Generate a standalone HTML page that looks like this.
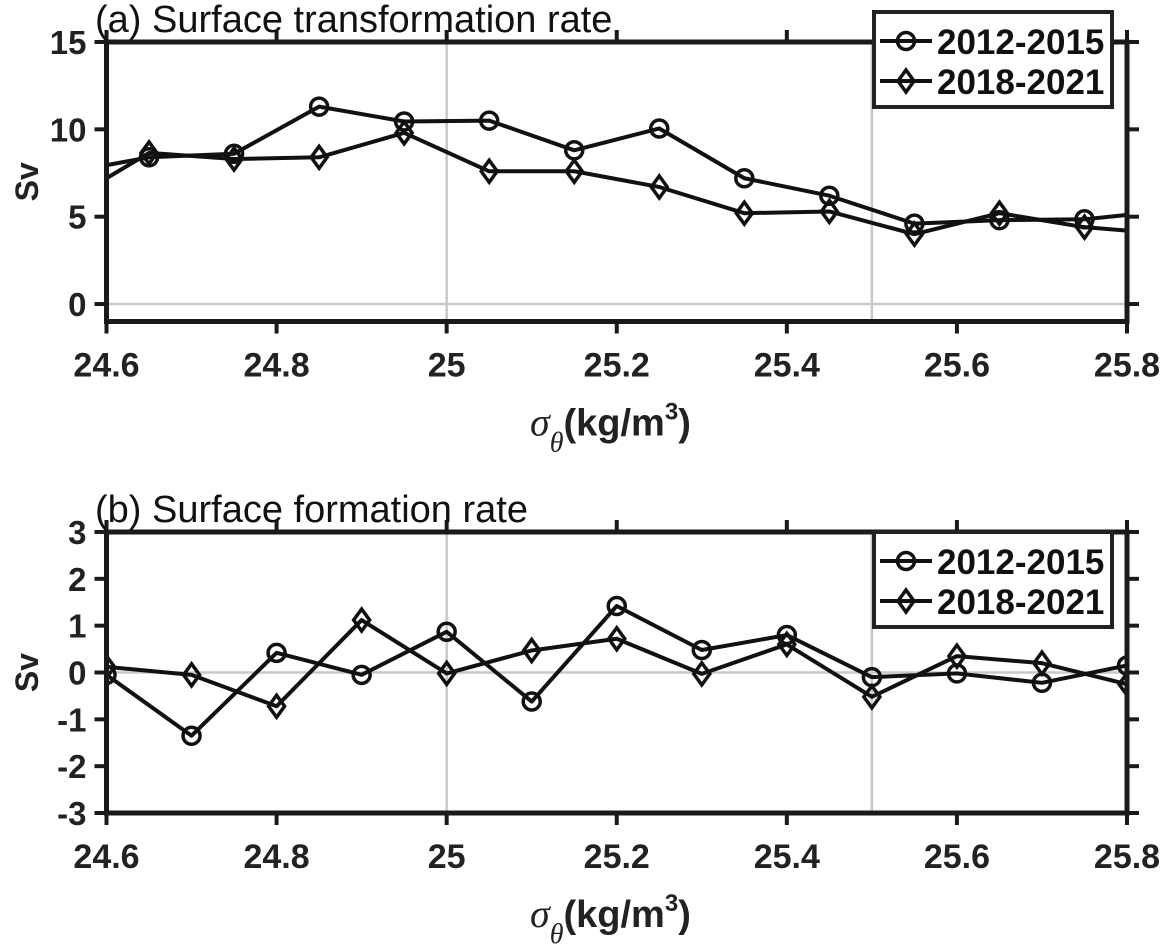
<!DOCTYPE html>
<html><head><meta charset="utf-8"><style>
html,body{margin:0;padding:0;background:#fff;}
svg{display:block;font-family:"Liberation Sans",Arial,sans-serif;}
</style></head><body>
<svg id="fig" width="1168" height="952" viewBox="0 0 1168 952" xmlns="http://www.w3.org/2000/svg"></svg>
<script>
// Panel (a) data
const xA = [24.55,24.65,24.75,24.85,24.95,25.05,25.15,25.25,25.35,25.45,25.55,25.65,25.75,25.85];
const aCircle = [7.5,8.4,8.6,11.3,10.45,10.5,8.8,10.05,7.2,6.2,4.6,4.8,4.85,5.35];
const aDiamond = [5.75,8.65,8.3,8.4,9.8,7.6,7.6,6.7,5.2,5.3,4.0,5.2,4.4,4.0];
const aYTicks = [0,5,10,15];
// Panel (b) data
const xB = [24.6,24.7,24.8,24.9,25.0,25.1,25.2,25.3,25.4,25.5,25.6,25.7,25.8];
const bCircle = [-0.05,-1.35,0.42,-0.05,0.87,-0.62,1.42,0.48,0.8,-0.1,-0.02,-0.22,0.15];
const bDiamond = [0.12,-0.05,-0.72,1.12,-0.02,0.47,0.72,-0.03,0.6,-0.52,0.35,0.2,-0.25];
const bYTicks = [-3,-2,-1,0,1,2,3];
const xTicks = [24.6,24.8,25,25.2,25.4,25.6,25.8];
const xTickLabels = ["24.6","24.8","25","25.2","25.4","25.6","25.8"];
const seriesNames = ["2012-2015","2018-2021"];

const NS="http://www.w3.org/2000/svg";
const svg=document.getElementById('fig');
function mk(tag,attrs,parent){const e=document.createElementNS(NS,tag);for(const k in attrs)e.setAttribute(k,attrs[k]);(parent||svg).appendChild(e);return e;}

function marker(g,type,cx,cy){
  if(type==='circle'){
    const c=mk('circle',{cx:cx,cy:cy,r:8.5,fill:'none',stroke:'#111','stroke-width':3.5},g);
    
    
  } else {
    const p=mk('polygon',{points:`${cx},${cy-11} ${cx+8},${cy} ${cx},${cy+11} ${cx-8},${cy}`,fill:'none',stroke:'#111','stroke-width':3.5},g);
    
    
  }
}

function panel(cfg){
  const L=106.5,R=1127,T=cfg.top,B=cfg.bottom;
  const xs=v=>L+(v-24.6)/1.2*(R-L);
  const ys=v=>B-(v-cfg.ymin)/(cfg.ymax-cfg.ymin)*(B-T);
  const g=mk('g',{});
  
  
  const cid='clip'+cfg.name;
  const cp=mk('clipPath',{id:cid},g);mk('rect',{x:L,y:T,width:R-L,height:B-T},cp);
  [25,25.5].forEach(v=>{const l=mk('line',{x1:xs(v),x2:xs(v),y1:T,y2:B,stroke:'#c8c8c8','stroke-width':2.5},g);
    });
  const gl=mk('line',{x1:L,x2:R,y1:ys(0),y2:ys(0),stroke:'#c8c8c8','stroke-width':2.5},g);
  
  const sets=[[cfg.xs,cfg.c,'circle'],[cfg.xs,cfg.d,'diamond']];
  sets.forEach((s,si)=>{
    const sg=mk('g',{'clip-path':`url(#${cid})`},g);
    
    
    const pts=s[0].map((x,i)=>xs(x)+','+ys(s[1][i])).join(' ');
    const pl=mk('polyline',{points:pts,fill:'none',stroke:'#111','stroke-width':4,'stroke-linejoin':'round'},sg);
    
    s[0].forEach((x,i)=>marker(sg,s[2],xs(x),ys(s[1][i])));
  });
  const box=mk('rect',{x:L,y:T,width:R-L,height:B-T,fill:'none',stroke:'#1a1a1a','stroke-width':5},g);
  
  xTicks.forEach((v,i)=>{
    mk('line',{x1:xs(v),x2:xs(v),y1:B,y2:B+12,stroke:'#1a1a1a','stroke-width':4},g);
    mk('line',{x1:xs(v),x2:xs(v),y1:T,y2:T-12,stroke:'#1a1a1a','stroke-width':4},g);
    const t=mk('text',{x:xs(v),y:B+55,'text-anchor':'middle','font-size':34,'font-weight':'bold',fill:'#222'},g);
    t.textContent=xTickLabels[i];
    
  });
  cfg.yt.forEach(v=>{
    mk('line',{x1:L,x2:L-12,y1:ys(v),y2:ys(v),stroke:'#1a1a1a','stroke-width':4},g);
    mk('line',{x1:R,x2:R+12,y1:ys(v),y2:ys(v),stroke:'#1a1a1a','stroke-width':4},g);
    const t=mk('text',{x:L-20,y:ys(v)+12,'text-anchor':'end','font-size':33,'font-weight':'bold',fill:'#222'},g);
    t.textContent=String(v);
    
  });
  const yt=mk('text',{x:0,y:0,transform:`translate(38,${(T+B)/2}) rotate(-90)`,'text-anchor':'middle','font-size':32,'font-weight':'bold',fill:'#222'},g);
  yt.textContent='Sv';
  const xt=mk('text',{x:530,y:B+114,'font-size':38,'font-weight':'bold',fill:'#222'},g);
  xt.innerHTML='<tspan font-family="Liberation Serif, serif" font-style="italic" font-weight="normal" font-size="40">σ</tspan><tspan font-family="Liberation Serif, serif" font-style="italic" font-weight="normal" font-size="28" dy="16">θ</tspan><tspan dy="-16">(kg/m</tspan><tspan font-size="24" dy="-16">3</tspan><tspan dy="16">)</tspan>';
  
  const pt=mk('text',{x:95,y:T-10,'font-size':38,fill:'#111'},g);
  pt.textContent=cfg.title;
  const lg=mk('g',{},g);
  const ly=cfg.legendY;
  mk('rect',{x:874,y:ly,width:238,height:95,fill:'#fff',stroke:'#222','stroke-width':4},lg);
  ['circle','diamond'].forEach((m,i)=>{
    const cy=ly+29+i*40;
    const e=mk('g',{},lg);
    mk('line',{x1:880,x2:932,y1:cy,y2:cy,stroke:'#111','stroke-width':4},e);
    marker(e,m,906,cy);
    const t=mk('text',{x:937,y:cy+13,'font-size':35,'font-weight':'bold',fill:'#111'},e);
    t.textContent=seriesNames[i];
  });
}
panel({name:'panel-a',top:42,bottom:321.5,ymin:-1,ymax:15,xs:xA,c:aCircle,d:aDiamond,yt:aYTicks,title:'(a) Surface transformation rate',legendY:12});
panel({name:'panel-b',top:532,bottom:813,ymin:-3,ymax:3,xs:xB,c:bCircle,d:bDiamond,yt:bYTicks,title:'(b) Surface formation rate',legendY:532});
</script>
</body></html>
